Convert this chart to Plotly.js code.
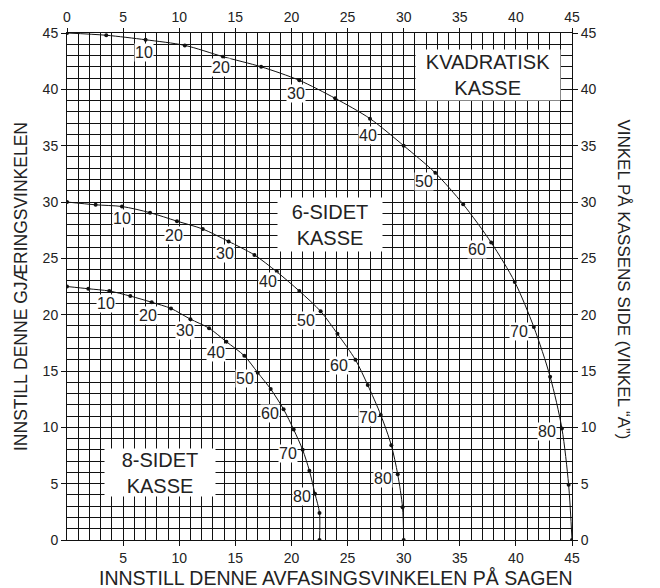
<!DOCTYPE html>
<html>
<head>
<meta charset="utf-8">
<script src="https://cdn.plot.ly/plotly-3.0.1.min.js"></script>
<style>html,body{margin:0;padding:0;background:#fff;}#chart{width:660px;height:588px;}</style>
</head>
<body>
<div id="chart"></div>
<script>
// Compound mitre chart: bevel (x) vs mitre (y), dots every 5° of side angle A (0..90)
const squareX = [0, 3.5, 7.0, 10.5, 13.9, 17.3, 20.7, 23.9, 27.0, 30.0, 32.8, 35.3, 37.8, 39.9, 41.6, 43.05, 44.1, 44.7, 45];
const squareY = [45, 44.8, 44.4, 43.9, 42.9, 42.0, 40.8, 39.2, 37.4, 35.0, 32.6, 29.8, 26.4, 22.9, 18.9, 14.5, 9.9, 4.9, 0];
const hexX = [0, 2.55, 4.9, 7.4, 9.8, 12.1, 14.4, 16.7, 18.7, 20.7, 22.6, 24.1, 25.7, 26.8, 27.96, 28.9, 29.47, 29.9, 30];
const hexY = [30, 29.75, 29.6, 29.05, 28.3, 27.6, 26.5, 25.3, 23.8, 22.1, 20.3, 18.3, 16.0, 13.75, 11.1, 8.4, 5.83, 2.9, 0];
const octX = [0, 1.9, 3.77, 5.64, 7.55, 9.27, 11.0, 12.66, 14.2, 15.8, 17.0, 18.15, 19.3, 20.2, 21.0, 21.6, 22.1, 22.5, 22.5];
const octY = [22.5, 22.3, 22.1, 21.65, 21.1, 20.55, 19.6, 18.8, 17.6, 16.35, 14.85, 13.4, 11.6, 9.8, 8.0, 6.15, 4.1, 2.4, 0];
const angleLabels = ['10', '20', '30', '40', '50', '60', '70', '80'];
const boxLabels = ['KVADRATISK<br>KASSE', '6-SIDET<br>KASSE', '8-SIDET<br>KASSE'];
const xTickVals = [0, 5, 10, 15, 20, 25, 30, 35, 40, 45];
const xTitle = 'INNSTILL DENNE AVFASINGSVINKELEN PÅ SAGEN';
const yTitle = 'INNSTILL DENNE GJÆRINGSVINKELEN';
const y2Title = 'VINKEL PÅ KASSENS SIDE (VINKEL “A”)';

// label placement (layout)
const squareLabelPos = [[6.9,43.3],[13.7,41.9],[20.4,39.6],[26.8,35.9],[31.85,31.8],[36.5,25.8],[40.3,18.5],[42.75,9.6]];
const hexLabelPos = [[4.9,28.5],[9.5,27.0],[14.1,25.4],[17.9,22.9],[21.3,19.5],[24.2,15.5],[26.8,10.9],[28.2,5.5]];
const octLabelPos = [[3.5,21.0],[7.25,19.96],[10.5,18.6],[13.3,16.65],[15.9,14.35],[18.1,11.2],[19.7,7.7],[20.9,3.85]];
const boxPos = [{x:37.5,y:41.25,w:144,h:50},{x:23.4,y:28.0,w:104,h:53},{x:8.3,y:6.0,w:110,h:47}];

const FONT = 'Liberation Sans, Arial, Helvetica, sans-serif';
const curveStyle = {mode:'lines+markers', line:{color:'#111', width:1, shape:'spline', smoothing:0.8}, marker:{color:'#111', size:4}, hoverinfo:'skip', showlegend:false};

const traces = [
  Object.assign({x: squareX, y: squareY}, curveStyle),
  Object.assign({x: hexX, y: hexY}, curveStyle),
  Object.assign({x: octX, y: octY}, curveStyle),
  {x: squareX, y: squareY, xaxis:'x2', yaxis:'y2', mode:'markers', marker:{opacity:0}, hoverinfo:'skip', showlegend:false}
];

const annotations = [];
[squareLabelPos, hexLabelPos, octLabelPos].forEach(function(list){
  list.forEach(function(p, i){
    annotations.push({x:p[0], y:p[1], xref:'x', yref:'y', text:angleLabels[i], showarrow:false,
      font:{family:FONT, size:16, color:'#222'}, bgcolor:'#fff', borderpad:0});
  });
});
boxLabels.forEach(function(t, i){
  const b = boxPos[i];
  annotations.push({x:b.x, y:b.y, xref:'x', yref:'y', text:t, showarrow:false, width:b.w, height:b.h,
    font:{family:FONT, size:20, color:'#222'}, bgcolor:'#fff', borderpad:0, align:'center', valign:'middle'});
});
// right-hand title, reading top to bottom
annotations.push({x:1, y:0.515, xref:'paper', yref:'paper', xshift:63, text:y2Title, showarrow:false,
  textangle:90, font:{family:FONT, size:17, color:'#222'}});
// bottom title
annotations.push({x:0.5, y:0, xref:'paper', yref:'paper', xshift:16, yshift:-38, yanchor:'middle', text:xTitle,
  showarrow:false, font:{family:FONT, size:19.5, color:'#222'}});

const gridCommon = {
  range:[0,45], dtick:5, tick0:0, showgrid:true, gridcolor:'#111', gridwidth:1,
  minor:{dtick:1, showgrid:true, gridcolor:'#111', gridwidth:1, ticks:''},
  zeroline:false, showline:true, linecolor:'#111', linewidth:1,
  ticks:'outside', ticklen:5, tickcolor:'#111', tickwidth:1,
  tickfont:{family:FONT, size:14, color:'#222'}, fixedrange:true
};

const layout = {
  width:660, height:588,
  margin:{l:67, r:88, t:33, b:48, autoexpand:false},
  paper_bgcolor:'#fff', plot_bgcolor:'#fff',
  font:{family:FONT, color:'#222'},
  xaxis: Object.assign({}, gridCommon, {tickvals:xTickVals.slice(1), side:'bottom'}),
  yaxis: Object.assign({}, gridCommon, {tickvals:xTickVals,
    title:{text:yTitle, font:{family:FONT, size:17.5, color:'#222'}, standoff:10}}),
  xaxis2: {range:[0,45], overlaying:'x', side:'top', tickvals:xTickVals, showgrid:false, zeroline:false,
    showline:true, linecolor:'#111', linewidth:1, ticks:'outside', ticklen:4, tickcolor:'#111',
    tickfont:{family:FONT, size:14, color:'#222'}, fixedrange:true},
  yaxis2: {range:[0,45], overlaying:'y', side:'right', tickvals:xTickVals, showgrid:false, zeroline:false,
    showline:true, linecolor:'#111', linewidth:1, ticks:'outside', ticklen:5, tickcolor:'#111',
    tickfont:{family:FONT, size:14, color:'#222'}, fixedrange:true},
  annotations: annotations
};

Plotly.newPlot('chart', traces, layout, {staticPlot:true, displayModeBar:false});
</script>
</body>
</html>
